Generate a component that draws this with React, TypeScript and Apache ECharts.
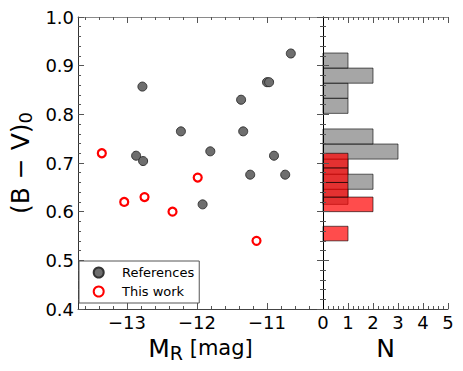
import React, { useEffect, useRef } from 'react';
import * as echarts from 'echarts';

// Scatter data: absolute R magnitude vs (B-V)_0
const refMag = [-12.78, -12.23, -12.87, -12.77, -11.81, -11.92, -11.37, -11.34, -11.24, -11.0, -10.97, -10.9, -10.74, -10.66];
const refColor = [0.857, 0.765, 0.715, 0.704, 0.724, 0.615, 0.83, 0.765, 0.676, 0.866, 0.866, 0.715, 0.676, 0.925];
const thisMag = [-13.36, -13.04, -12.75, -12.35, -11.99, -11.15];
const thisColor = [0.72, 0.62, 0.63, 0.6, 0.67, 0.54];

// Histogram bins (edges along (B-V)_0) and counts
const refBinEdges = [0.615, 0.646, 0.677, 0.708, 0.739, 0.77, 0.802, 0.833, 0.864, 0.895, 0.926];
const refCounts = [1, 2, 1, 3, 2, 0, 1, 1, 2, 1];
const thisBinEdges = [0.54, 0.57, 0.6, 0.63, 0.66, 0.69, 0.72];
const thisCounts = [1, 0, 2, 1, 1, 1];

// Tick values
const magTicks = [-13, -12, -11];
const magMinorTicks = [-13.6, -13.4, -13.2, -12.8, -12.6, -12.4, -12.2, -11.8, -11.6, -11.4, -11.2, -10.8, -10.6, -10.4];

const FONT = 'DejaVu Sans';
const TICK = '#555';

function histData(edges: number[], counts: number[]) {
  return counts.map((n, i) => [edges[i], edges[i + 1], n]);
}

function histRender(fill: string, stroke: string) {
  return (_params: any, api: any) => {
    const y0 = api.value(0);
    const y1 = api.value(1);
    const n = api.value(2);
    if (!n) return null;
    const p0 = api.coord([0, y1]);
    const p1 = api.coord([n, y0]);
    return {
      type: 'rect',
      shape: { x: p0[0], y: p0[1], width: p1[0] - p0[0], height: p1[1] - p0[1] },
      style: { fill, stroke, lineWidth: 1 },
    };
  };
}

const minusFmt = (v: number) => (v < 0 ? '\u2212' + Math.abs(v) : String(v));

export default function App() {
  const ref = useRef<HTMLDivElement>(null);
  useEffect(() => {
    if (!ref.current) return;
    const chart = echarts.init(ref.current, undefined, { renderer: 'svg' });
    const majorTick = (show: boolean) => ({ show, inside: true, length: 6, lineStyle: { color: TICK } });
    const minorTick = { show: true, splitNumber: 5, length: 3, lineStyle: { color: TICK } };
    chart.setOption({
      animation: false,
      backgroundColor: '#fff',
      textStyle: { fontFamily: FONT },
      grid: [
        { left: 73, top: 17, width: 250, height: 292 },
        { left: 323, top: 17, width: 125, height: 292 },
      ],
      legend: {
        data: ['References', 'This work'],
        orient: 'vertical',
        left: 79,
        top: 261,
        itemWidth: 10,
        itemHeight: 10,
        itemGap: 1,
        padding: [2.5, 5, 2.5, 13.7],
        borderColor: '#555',
        borderWidth: 1,
        backgroundColor: '#fff',
        textStyle: { fontSize: 13, fontFamily: FONT, color: '#000', lineHeight: 18, padding: [0, 0, 0, 13.3] },
      },
      xAxis: [
        {
          gridIndex: 0, type: 'value', position: 'bottom', min: -13.7, max: -10.2,
          axisLine: { show: true, lineStyle: { color: '#444' } },
          axisTick: { ...majorTick(true), customValues: magTicks },
          axisLabel: { customValues: magTicks, formatter: minusFmt, fontSize: 18, margin: 4, color: '#000', fontFamily: FONT },
          splitLine: { show: false },
          name: '{m|M}{sub|R}{t| [mag]}', nameLocation: 'middle', nameGap: 17,
          nameTextStyle: {
            fontSize: 25, color: '#000', fontFamily: FONT,
            rich: {
              m: { fontSize: 25, fontFamily: FONT, color: '#000' },
              sub: { fontSize: 19, fontFamily: FONT, color: '#000', padding: [10, 0, 0, 0] },
              t: { fontSize: 21, fontFamily: FONT, color: '#000' },
            },
          },
        },
        {
          gridIndex: 0, type: 'value', position: 'bottom', min: -13.7, max: -10.2,
          axisLine: { show: false },
          axisTick: { show: true, inside: true, length: 3, lineStyle: { color: TICK }, customValues: magMinorTicks },
          axisLabel: { show: false },
          splitLine: { show: false },
        },
        {
          gridIndex: 0, type: 'value', position: 'top', min: -13.7, max: -10.2,
          axisLine: { show: true, lineStyle: { color: '#8a8a8a' } },
          axisTick: { ...majorTick(true), customValues: magTicks },
          axisLabel: { show: false },
          splitLine: { show: false },
        },
        {
          gridIndex: 0, type: 'value', position: 'top', min: -13.7, max: -10.2,
          axisLine: { show: false },
          axisTick: { show: true, inside: true, length: 3, lineStyle: { color: TICK }, customValues: magMinorTicks },
          axisLabel: { show: false },
          splitLine: { show: false },
        },
        {
          gridIndex: 1, type: 'value', position: 'bottom', min: 0, max: 5, interval: 1,
          axisLine: { show: true, lineStyle: { color: '#444' } },
          axisTick: majorTick(true),
          minorTick,
          axisLabel: { fontSize: 18, margin: 4, color: '#000', fontFamily: FONT },
          splitLine: { show: false },
          name: 'N', nameLocation: 'middle', nameGap: 17,
          nameTextStyle: { fontSize: 25, color: '#000', fontFamily: FONT },
        },
        {
          gridIndex: 1, type: 'value', position: 'top', min: 0, max: 5, interval: 1,
          axisLine: { show: true, lineStyle: { color: '#8a8a8a' } },
          axisTick: majorTick(true),
          minorTick,
          axisLabel: { show: false },
          splitLine: { show: false },
        },
      ],
      yAxis: [
        {
          gridIndex: 0, type: 'value', position: 'left', min: 0.4, max: 1.0, interval: 0.1,
          axisLine: { show: true, lineStyle: { color: '#333' } },
          axisTick: majorTick(true),
          minorTick,
          axisLabel: { formatter: (v: number) => v.toFixed(1), fontSize: 18, margin: 4, color: '#000', fontFamily: FONT },
          splitLine: { show: false },
          name: '(B \u2212 V){sub|0}', nameLocation: 'middle', nameGap: 34, nameRotate: 90,
          nameTextStyle: { fontSize: 25, color: '#000', fontFamily: FONT, rich: { sub: { fontSize: 18, fontFamily: FONT, padding: [10, 0, 0, 0] } } },
        },
        {
          gridIndex: 0, type: 'value', position: 'right', min: 0.4, max: 1.0, interval: 0.1,
          axisLine: { show: false },
          axisTick: majorTick(true),
          minorTick,
          axisLabel: { show: false },
          splitLine: { show: false },
        },
        {
          gridIndex: 1, type: 'value', position: 'left', min: 0.4, max: 1.0, interval: 0.1, z: 10,
          axisLine: { show: true, lineStyle: { color: '#000' } },
          axisTick: majorTick(true),
          minorTick,
          axisLabel: { show: false },
          splitLine: { show: false },
        },
        {
          gridIndex: 1, type: 'value', position: 'right', min: 0.4, max: 1.0, interval: 0.1,
          axisLine: { show: true, lineStyle: { color: '#333' } },
          axisTick: majorTick(true),
          minorTick,
          axisLabel: { show: false },
          splitLine: { show: false },
        },
      ],
      series: [
        {
          name: 'References', type: 'scatter', xAxisIndex: 0, yAxisIndex: 0,
          data: refMag.map((m, i) => [m, refColor[i]]),
          symbol: 'circle', symbolSize: 9,
          itemStyle: { color: '#6e6e6e', borderColor: '#333', borderWidth: 1, opacity: 1 },
          z: 3,
        },
        {
          name: 'This work', type: 'scatter', xAxisIndex: 0, yAxisIndex: 0,
          data: thisMag.map((m, i) => [m, thisColor[i]]),
          symbol: 'circle', symbolSize: 8,
          itemStyle: { color: '#fff', borderColor: '#ff0000', borderWidth: 2.2, opacity: 1 },
          z: 3,
        },
        {
          name: 'refHist', type: 'custom', xAxisIndex: 4, yAxisIndex: 2,
          data: histData(refBinEdges, refCounts),
          encode: { x: 2, y: [0, 1] },
          renderItem: histRender('rgba(128,128,128,0.7)', 'rgba(0,0,0,0.6)'),
          z: 2,
        },
        {
          name: 'thisHist', type: 'custom', xAxisIndex: 4, yAxisIndex: 2,
          data: histData(thisBinEdges, thisCounts),
          encode: { x: 2, y: [0, 1] },
          renderItem: histRender('rgba(255,0,0,0.7)', 'rgba(0,0,0,0.6)'),
          z: 3,
        },
      ],
    });
    return () => chart.dispose();
  }, []);
  return <div ref={ref} style={{ width: 463, height: 371, position: 'absolute', left: 0, top: 0 }} />;
}
